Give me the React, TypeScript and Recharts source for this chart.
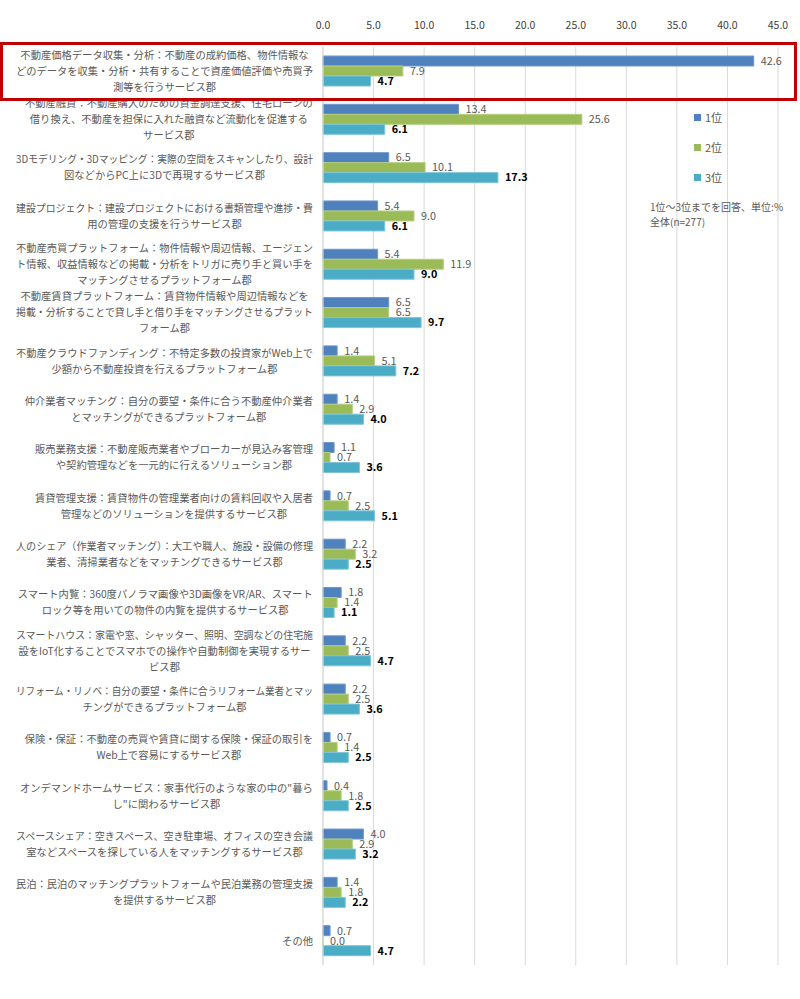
import React from 'react';
import { BarChart, Bar, XAxis, YAxis, CartesianGrid, LabelList } from 'recharts';

const categories = [
  '不動産価格データ収集・分析：不動産の成約価格、物件情報な\nどのデータを収集・分析・共有することで資産価値評価や売買予\n測等を行うサービス郡',
  '不動産融資：不動産購入のための資金調達支援、住宅ローンの\n借り換え、不動産を担保に入れた融資など流動化を促進する\nサービス郡',
  '3Dモデリング・3Dマッピング：実際の空間をスキャンしたり、設計\n図などからPC上に3Dで再現するサービス郡',
  '建設プロジェクト：建設プロジェクトにおける書類管理や進捗・費\n用の管理の支援を行うサービス郡',
  '不動産売買プラットフォーム：物件情報や周辺情報、エージェン\nト情報、収益情報などの掲載・分析をトリガに売り手と買い手を\nマッチングさせるプラットフォーム郡',
  '不動産賃貸プラットフォーム：賃貸物件情報や周辺情報などを\n掲載・分析することで貸し手と借り手をマッチングさせるプラット\nフォーム郡',
  '不動産クラウドファンディング：不特定多数の投資家がWeb上で\n少額から不動産投資を行えるプラットフォーム郡',
  '仲介業者マッチング：自分の要望・条件に合う不動産仲介業者\nとマッチングができるプラットフォーム郡',
  '販売業務支援：不動産販売業者やブローカーが見込み客管理\nや契約管理などを一元的に行えるソリューション郡',
  '賃貸管理支援：賃貸物件の管理業者向けの賃料回収や入居者\n管理などのソリューションを提供するサービス郡',
  '人のシェア（作業者マッチング）：大工や職人、施設・設備の修理\n業者、清掃業者などをマッチングできるサービス郡',
  'スマート内覧：360度パノラマ画像や3D画像をVR/AR、スマート\nロック等を用いての物件の内覧を提供するサービス郡',
  'スマートハウス：家電や窓、シャッター、照明、空調などの住宅施\n設をIoT化することでスマホでの操作や自動制御を実現するサー\nビス郡',
  'リフォーム・リノベ：自分の要望・条件に合うリフォーム業者とマッ\nチングができるプラットフォーム郡',
  '保険・保証：不動産の売買や賃貸に関する保険・保証の取引を\nWeb上で容易にするサービス郡',
  'オンデマンドホームサービス：家事代行のような家の中の"暮ら\nし"に関わるサービス郡',
  'スペースシェア：空きスペース、空き駐車場、オフィスの空き会議\n室などスペースを探している人をマッチングするサービス郡',
  '民泊：民泊のマッチングプラットフォームや民泊業務の管理支援\nを提供するサービス郡',
  'その他',
];

const rank1 = [42.6, 13.4, 6.5, 5.4, 5.4, 6.5, 1.4, 1.4, 1.1, 0.7, 2.2, 1.8, 2.2, 2.2, 0.7, 0.4, 4.0, 1.4, 0.7];
const rank2 = [7.9, 25.6, 10.1, 9.0, 11.9, 6.5, 5.1, 2.9, 0.7, 2.5, 3.2, 1.4, 2.5, 2.5, 1.4, 1.8, 2.9, 1.8, 0.0];
const rank3 = [4.7, 6.1, 17.3, 6.1, 9.0, 9.7, 7.2, 4.0, 3.6, 5.1, 2.5, 1.1, 4.7, 3.6, 2.5, 2.5, 3.2, 2.2, 4.7];

const xTicks = [0, 5, 10, 15, 20, 25, 30, 35, 40, 45];

const seriesNames = ['1位', '2位', '3位'];
const seriesColors = ['#4F81BD', '#9BBB59', '#4BACC6'];
const noteLines = ['1位～3位までを回答、単位:%', '全体(n=277)'];

const data = categories.map((name, i) => ({
  name,
  r1: rank1[i],
  r2: rank2[i],
  r3: rank3[i],
}));

const FONT = '"Noto Sans CJK JP", "Noto Sans", sans-serif';
const GRAY = '#595959';
const TICK_SIZE = 10.3;
const MAX_LINE = 297;

// measure label lines so the block is right aligned but each line is centred (like Excel)
let measureCtx: CanvasRenderingContext2D | null = null;
const measure = (s: string) => {
  if (!measureCtx) {
    measureCtx = document.createElement('canvas').getContext('2d');
  }
  if (!measureCtx) return s.length * TICK_SIZE;
  measureCtx.font = `${TICK_SIZE}px ${FONT}`;
  return measureCtx.measureText(s).width;
};

const CategoryTick = (props: any) => {
  const { x, y, payload } = props;
  const lines = String(payload.value).split('\n');
  const lh = 16;
  const widths = lines.map(measure);
  const maxW = Math.min(MAX_LINE, Math.max(...widths));
  const cx = x - 2 - maxW / 2;
  return (
    <text x={cx} y={y} textAnchor="middle" fill={GRAY} fontSize={TICK_SIZE} fontFamily={FONT}>
      {lines.map((ln, i) => (
        <tspan
          key={i}
          x={cx}
          y={y + (i - (lines.length - 1) / 2) * lh}
          dy="0.36em"
          {...(widths[i] > MAX_LINE ? { textLength: MAX_LINE, lengthAdjust: 'spacingAndGlyphs' } : {})}
        >
          {ln}
        </tspan>
      ))}
    </text>
  );
};

const fmt = (v: any) => Number(v).toFixed(1);

export default function App() {
  return (
    <div style={{ position: 'absolute', left: 0, top: 0, width: 800, height: 999, background: '#fff', fontFamily: FONT }}>
      <BarChart
        width={800}
        height={999}
        data={data}
        layout="vertical"
        margin={{ top: 22, right: 22, bottom: 34, left: 0 }}
        barCategoryGap={9}
        barGap={0}
      >
        <CartesianGrid horizontal={false} stroke="#D9D9D9" />
        <XAxis
          type="number"
          orientation="top"
          domain={[0, 45]}
          ticks={xTicks}
          tickFormatter={fmt}
          axisLine={false}
          tickLine={false}
          tickSize={0}
          tickMargin={18}
          height={25}
          tick={{ fill: '#404040', fontSize: 10.5, fontFamily: FONT }}
          interval={0}
        />
        <YAxis
          type="category"
          dataKey="name"
          width={323}
          axisLine={{ stroke: '#D9D9D9' }}
          tickLine={false}
          tick={<CategoryTick />}
          interval={0}
        />
        <Bar dataKey="r1" name={seriesNames[0]} fill={seriesColors[0]} stroke="#6f98cc" strokeWidth={1} barSize={10} isAnimationActive={false}>
          <LabelList dataKey="r1" position="right" offset={7} formatter={fmt} fill={GRAY} fontSize={10.8} fontFamily={FONT} />
        </Bar>
        <Bar dataKey="r2" name={seriesNames[1]} fill={seriesColors[1]} stroke="#b5cf82" strokeWidth={1} barSize={10} minPointSize={0.01} isAnimationActive={false}>
          <LabelList dataKey="r2" position="right" offset={7} formatter={fmt} fill={GRAY} fontSize={10.8} fontFamily={FONT} />
        </Bar>
        <Bar dataKey="r3" name={seriesNames[2]} fill={seriesColors[2]} stroke="#7cc4d8" strokeWidth={1} barSize={10} isAnimationActive={false}>
          <LabelList dataKey="r3" position="right" offset={7} formatter={fmt} fill="#000" fontWeight="bold" fontSize={10.8} fontFamily={FONT} />
        </Bar>
      </BarChart>
      <div style={{ position: 'absolute', left: 694, top: 102, fontSize: 11, color: GRAY, fontFamily: FONT }}>
        {seriesNames.map((n, i) => (
          <div key={n} style={{ display: 'flex', alignItems: 'center', height: 30 }}>
            <span style={{ display: 'inline-block', width: 7, height: 7, background: seriesColors[i], marginRight: 4 }} />
            <span>{n}</span>
          </div>
        ))}
      </div>
      <div style={{ position: 'absolute', left: 650, top: 199, fontSize: 10, color: GRAY, lineHeight: '15px', fontFamily: FONT }}>
        {noteLines.map((t, i) => (
          <div key={i}>{t}</div>
        ))}
      </div>
      <div
        style={{
          position: 'absolute',
          left: 0,
          top: 42,
          width: 797,
          height: 59,
          border: '3px solid #C00000',
          boxSizing: 'border-box',
          pointerEvents: 'none',
        }}
      />
    </div>
  );
}
